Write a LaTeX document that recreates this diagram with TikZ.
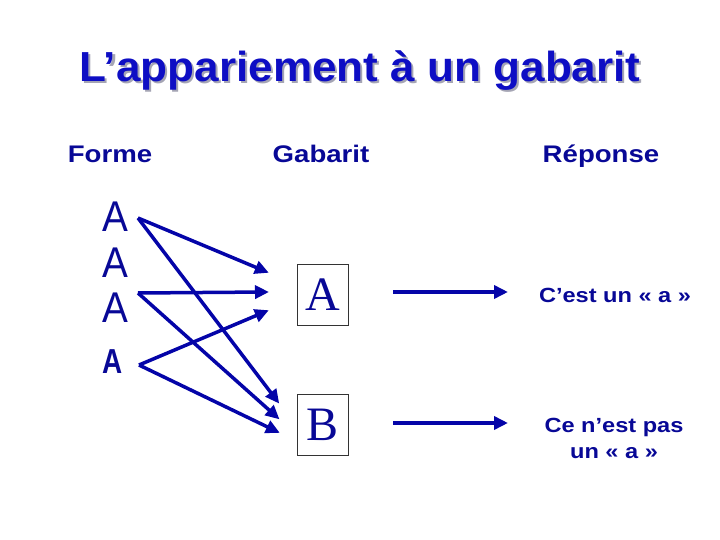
\documentclass[tikz,border=0pt]{standalone}
\usepackage{fontspec}
\setmainfont{Liberation Sans}
\newfontfamily\serifA{Liberation Serif}
\usetikzlibrary{arrows.meta}
\definecolor{titleblue}{RGB}{14,14,196}
\definecolor{txtblue}{RGB}{8,8,150}
\definecolor{arrblue}{RGB}{4,4,168}
\definecolor{shade}{RGB}{165,165,180}
\newcommand{\shadowed}[1]{\rlap{\kern2pt\raisebox{-2pt}{\textcolor{shade}{#1}}}\textcolor{titleblue}{#1}}
\begin{document}
\begin{tikzpicture}[x=1pt,y=-1pt,
  titlestyle/.style={font=\fontsize{42}{48}\selectfont\bfseries, anchor=base, inner sep=0pt, xscale=1.05},
  headstyle/.style={font=\fontsize{24}{28}\selectfont\bfseries, text=txtblue, anchor=base, inner sep=0pt, xscale=1.15},
  respstyle/.style={font=\fontsize{20.5}{26}\selectfont\bfseries, text=txtblue, anchor=base, inner sep=0pt, xscale=1.15},
  thinA/.style={font=\fontsize{43}{48}\selectfont, text=txtblue, anchor=base, inner sep=0pt, xscale=0.9},
  boldA/.style={font=\fontsize{34}{36}\selectfont\bfseries, text=txtblue, anchor=base, inner sep=0pt, xscale=0.82, yscale=1.02},
  tplbox/.style={draw=black!80, line width=0.9pt, minimum width=51pt, minimum height=61pt, inner sep=0pt, font=\serifA\fontsize{48}{50}\selectfont, text=txtblue},
  conn/.style={draw=arrblue, line width=3.5pt, -{Triangle[length=14pt,width=13pt]}, shorten >=-2pt}
]
\useasboundingbox (0,0) rectangle (720,540);
% title
\node[titlestyle] (title) at (360,82) {\shadowed{L’appariement à un gabarit}};
% headers
\node[headstyle] (forme) at (110,163) {Forme};
\node[headstyle] (gab) at (321,163) {Gabarit};
\node[headstyle] (rep) at (601,163) {Réponse};
% forms
\node[thinA] (a1) at (115,232) {A};
\node[thinA] (a2) at (115,277) {A};
\node[thinA] (a3) at (115,322) {A};
\node[boldA] (a4) at (113,373) {A};
% templates
\node[tplbox] (tA) at (322.5,294.5) {A};
\node[tplbox] (tB) at (322.5,424.5) {B};
% responses
\node[respstyle] (r1) at (615,302) {C’est un « a »};
\node[respstyle] (r2) at (614,432) {Ce n’est pas};
\node[respstyle] (r3) at (614,458) {un « a »};
% connector ends
\coordinate (s1) at (138,218);
\coordinate (s2) at (138,293);
\coordinate (s3) at (139,365);
\coordinate (t1) at (267,272);
\coordinate (t2) at (267,292);
\coordinate (t3) at (267,311);
\coordinate (b1) at (278,402);
\coordinate (b2) at (278,418);
\coordinate (b3) at (278,432);
\coordinate (p1) at (393,292);
\coordinate (q1) at (506,292);
\coordinate (p2) at (393,423);
\coordinate (q2) at (506,423);
% connectors
\draw[conn] (s1) -- (t1);
\draw[conn] (s1) -- (b1);
\draw[conn] (s2) -- (t2);
\draw[conn] (s2) -- (b2);
\draw[conn] (s3) -- (t3);
\draw[conn] (s3) -- (b3);
\draw[conn] (p1) -- (q1);
\draw[conn] (p2) -- (q2);
\end{tikzpicture}
\end{document}
